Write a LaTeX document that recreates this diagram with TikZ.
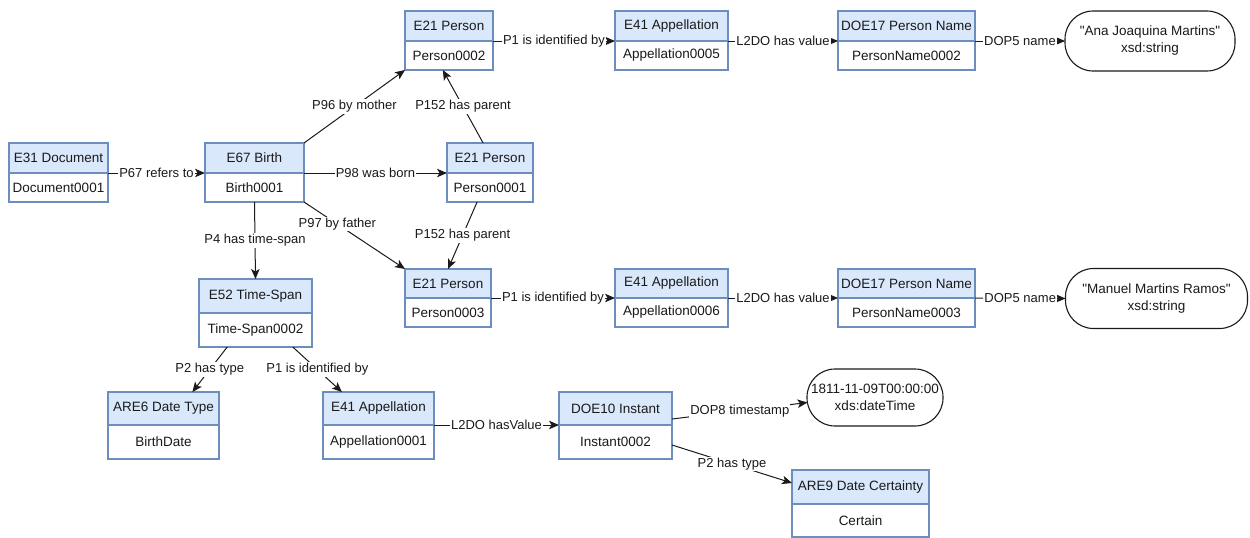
\documentclass[tikz,border=0pt]{standalone}
\usepackage{fontspec}
\setmainfont{Liberation Sans}[Ligatures=TeXOff]
\usetikzlibrary{arrows.meta,calc}
\definecolor{hdrfill}{HTML}{DAE8FC}
\definecolor{hdrline}{HTML}{6C8EBF}
\definecolor{ink}{HTML}{1A1A1A}
\tikzset{
  hdr/.style={draw=hdrline, fill=hdrfill, line width=1.1pt, inner sep=0pt, outer sep=0pt, font=\fontsize{13.5}{15}\selectfont, text=ink},
  bdy/.style={draw=hdrline, fill=white, line width=1.1pt, inner sep=0pt, outer sep=0pt, font=\fontsize{13.5}{15}\selectfont, text=ink},
  lit/.style={draw=ink, fill=white, line width=1.1pt, rounded corners=28pt, inner sep=0pt, outer sep=0pt, align=center, font=\fontsize{13.5}{17}\selectfont, text=ink},
  conn/.style={draw=ink, line width=1pt, -{Stealth[length=10pt,width=8.5pt,inset=2.5pt]}},
  lbl/.style={fill=white, inner sep=1pt, font=\fontsize{13}{15}\selectfont, text=ink}
}
% name, left, right, top, divider, bottom, title, instance
\newcommand\ent[8]{%
  \node[hdr, minimum width={#3pt-#2pt}, minimum height={#5pt-#4pt}, anchor=north west] (#1) at (#2,#4) {#7};
  \node[bdy, minimum width={#3pt-#2pt}, minimum height={#6pt-#5pt}, anchor=north west] (#1b) at (#2,#5) {#8};
}
\begin{document}
\begin{tikzpicture}[x=1pt,y=-1pt]
\useasboundingbox (0,0) rectangle (1250,538);

\ent{doc}{9}{108}{143}{173}{202}{E31 Document}{Document0001}
\ent{birth}{205}{304}{143}{173}{202}{E67 Birth}{Birth0001}
\ent{ptwo}{405}{493}{11}{41}{70}{E21 Person}{Person0002}
\ent{pone}{447}{533}{143}{173}{202}{E21 Person}{Person0001}
\ent{pthree}{405}{491}{269}{298}{327}{E21 Person}{Person0003}
\ent{appfive}{615}{728}{11}{41}{70}{E41 Appellation}{Appellation0005}
\ent{pntwo}{838}{975}{11}{41}{70}{DOE17 Person Name}{PersonName0002}
\ent{appsix}{615}{728}{269}{298}{327}{E41 Appellation}{Appellation0006}
\ent{pnthree}{838}{975}{269}{298}{327}{DOE17 Person Name}{PersonName0003}
\ent{ts}{199}{312}{279}{313}{347}{E52 Time-Span}{Time-Span0002}
\ent{dt}{108}{219}{392}{425}{459}{ARE6 Date Type}{BirthDate}
\ent{appone}{323}{434}{392}{425}{459}{E41 Appellation}{Appellation0001}
\ent{inst}{559}{672}{392}{425}{459}{DOE10 Instant}{Instant0002}
\ent{cert}{792}{929}{470}{504}{537}{ARE9 Date Certainty}{Certain}

\node[lit, minimum width=170pt, minimum height=60pt] (litone) at (1150,41) {"Ana Joaquina Martins"\\xsd:string};
\node[lit, minimum width=182pt, minimum height=60pt] (littwo) at (1156.5,298.5) {"Manuel Martins Ramos"\\xsd:string};
\node[lit, minimum width=136pt, minimum height=57pt] (litthree) at (875,397.5) {1811-11-09T00:00:00\\xds:dateTime};

\draw[conn] (doc.south east) -- node[lbl]{P67 refers to} (birth.south west);
\draw[conn] (birth.south east) -- node[lbl]{P98 was born} (pone.south west);
\draw[conn] (birth.north east) -- node[lbl]{P96 by mother} (ptwob.south west);
\draw[conn] ($(pone.north west)!0.42!(pone.north east)$) -- node[lbl]{P152 has parent} ($(ptwob.south west)!0.43!(ptwob.south east)$);
\draw[conn] (birthb.south east) -- node[lbl, pos=0.33]{P97 by father} (pthree.north west);
\draw[conn] ($(poneb.south west)!0.35!(poneb.south east)$) -- node[lbl]{P152 has parent} (pthree.north);
\draw[conn] (birthb.south) -- node[lbl]{P4 has time-span} (ts.north);

\draw[conn] (ptwo.south east) -- node[lbl]{P1 is identified by} (appfive.south west);
\draw[conn] (appfive.south east) -- node[lbl]{L2DO has value} (pntwo.south west);
\draw[conn] (pntwo.south east) -- node[lbl]{DOP5 name} (litone.west);
\draw[conn] (pthree.south east) -- node[lbl]{P1 is identified by} (appsix.south west);
\draw[conn] (appsix.south east) -- node[lbl]{L2DO has value} (pnthree.south west);
\draw[conn] (pnthree.south east) -- node[lbl]{DOP5 name} (littwo.west);

\draw[conn] ($(tsb.south west)!0.25!(tsb.south east)$) -- node[lbl]{P2 has type} ($(dt.north west)!0.76!(dt.north east)$);
\draw[conn] ($(tsb.south west)!0.83!(tsb.south east)$) -- node[lbl]{P1 is identified by} ($(appone.north west)!0.17!(appone.north east)$);
\draw[conn] (appone.south east) -- node[lbl]{L2DO hasValue} (inst.south west);
\draw[conn] ($(inst.south east)+(0,-6)$) -- node[lbl]{DOP8 timestamp} ($(litthree.west)+(0.5,5)$);
\draw[conn] ($(instb.north east)+(0,20)$) -- node[lbl]{P2 has type} ($(cert.north west)+(0,13)$);
\end{tikzpicture}
\end{document}
